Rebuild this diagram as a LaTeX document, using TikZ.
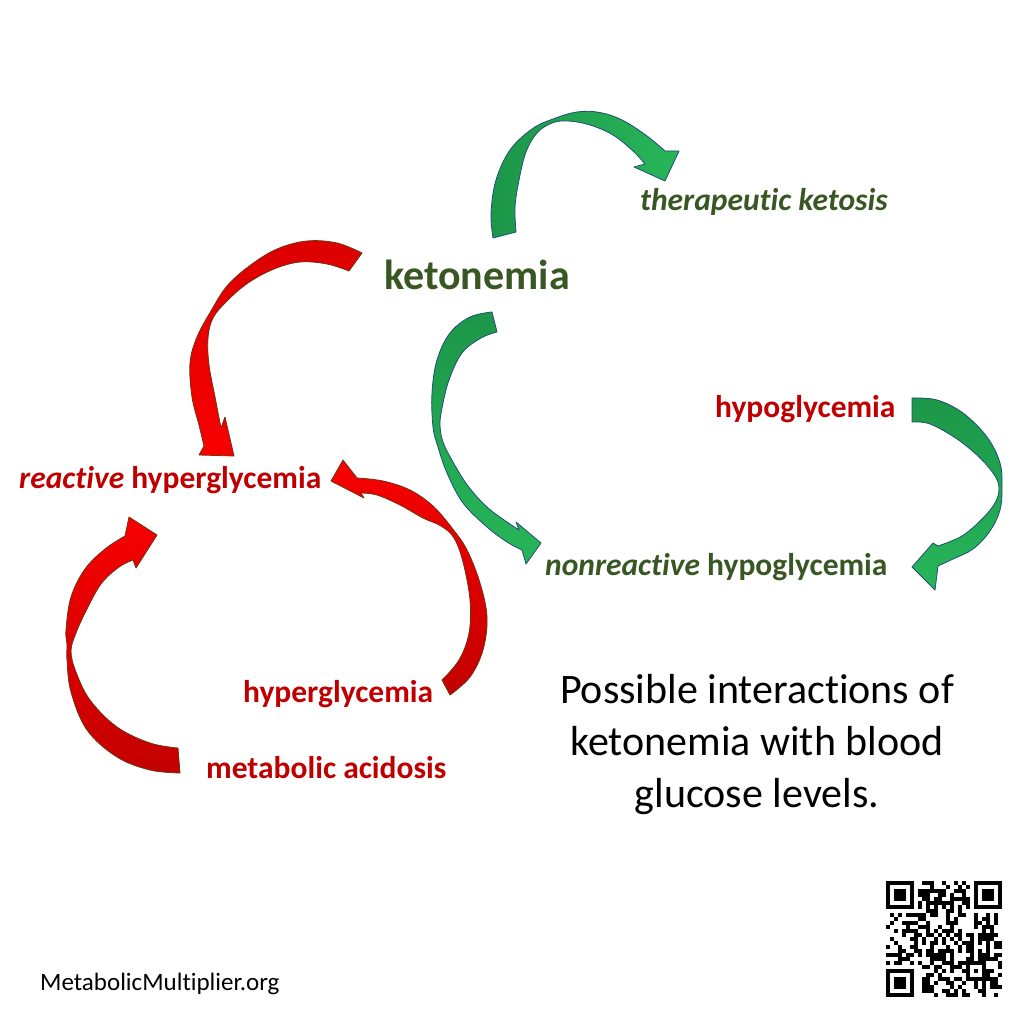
\documentclass[tikz,border=0pt]{standalone}
\usepackage{fontspec}
\setmainfont{Carlito}[Ligatures={NoCommon}]
\definecolor{dgreen}{RGB}{56,87,35}
\definecolor{dred}{RGB}{192,0,0}
\definecolor{gdark}{RGB}{28,150,72}
\definecolor{glight}{RGB}{40,182,90}
\definecolor{rdark}{RGB}{195,0,0}
\definecolor{rmid}{RGB}{220,0,0}
\definecolor{rlight}{RGB}{248,0,0}
\definecolor{gedge}{RGB}{31,78,121}
\definecolor{redge}{RGB}{110,50,20}
\tikzset{
  garrow/.style={draw=gedge, line width=0.8pt, line join=round},
  rarrow/.style={draw=redge, line width=0.8pt, line join=round},
  lbl/.style={inner sep=0pt, anchor=base west, font=\bfseries\fontsize{31.5}{37}\selectfont},
  caption/.style={inner sep=0pt, anchor=base, font=\fontsize{42}{52}\selectfont, text=black},
  qrmod/.style={fill=black},
}
\begin{document}
\begin{tikzpicture}[x=1pt,y=-1pt]
\fill[white] (0,0) rectangle (1024,1024);
\useasboundingbox (0,0) rectangle (1024,1024);

% ---------- labels ----------
\node[lbl, text=dgreen] (ther) at (640,211) {\itshape therapeutic ketosis};
\node[lbl, text=dgreen, font=\bfseries\fontsize{42}{50}\selectfont] (keto) at (384,289.5) {ketonemia};
\node[lbl, text=dred] (hypo) at (715,417) {hypoglycemia};
\node[lbl, text=dred] (rhyper) at (19,488) {{\itshape reactive} hyperglycemia};
\node[lbl, text=dgreen] (nrhypo) at (545,575) {{\itshape nonreactive} hypoglycemia};
\node[lbl, text=dred] (hyper) at (243,702) {hyperglycemia};
\node[lbl, text=dred] (acid) at (206,778) {metabolic acidosis};
\node[caption] (cap1) at (757,703) {Possible interactions of};
\node[caption] (cap2) at (757,755) {ketonemia with blood};
\node[caption] (cap3) at (757,807) {glucose levels.};
\node[inner sep=0pt, anchor=base west, font=\fontsize{25}{30}\selectfont] (site) at (40,990) {MetabolicMultiplier.org};

% ---------- arrows ----------
% ketonemia -> therapeutic ketosis
\shadedraw[garrow, left color=gdark, right color=glight]
  plot[smooth, tension=0.6] coordinates {(493,238) (491,213) (496,180) (510,150) (532,129) (553,119) (577,112) (600,112.5) (623,120.5) (647,136) (665,151)}
  -- (679,151) -- (665,181) -- (634,167)
  -- plot[smooth, tension=0.6] coordinates {(645,164) (633,151) (613,135) (590,125) (568,121) (552,123) (537,133) (526,152) (519,180) (515,207) (516,232)}
  -- cycle;
% ketonemia -> reactive hyperglycemia
\shadedraw[rarrow, top color=rmid, bottom color=rlight]
  plot[smooth, tension=0.6] coordinates {(362,253) (337,243) (307,241) (277,249) (250,265.5) (227,286) (211,311) (197,337) (190,363) (192,397) (199,425) (204,446)}
  -- (199,455) -- (234,456) -- (225,417)
  -- plot[smooth, tension=0.6] coordinates {(221,428) (215,397) (209,365) (208,338) (213,318) (227,301) (248,283) (274,269) (300,262) (327,264) (349,271)}
  -- cycle;
% ketonemia -> nonreactive hypoglycemia
\shadedraw[garrow, top color=gdark, bottom color=glight]
  plot[smooth, tension=0.6] coordinates {(492,312) (470,317) (450,333) (437,360) (432,393) (433,427) (438,447) (447,473) (463,503) (487,527) (507,542) (522,550)}
  -- (526,564) -- (541,543) -- (516,522)
  -- plot[smooth, tension=0.6] coordinates {(519,530) (507,522) (487,507) (468,486) (453,462) (443,442) (440,425) (442,408) (449,380) (462,353) (481,338) (497,332)}
  -- cycle;
% hypoglycemia -> nonreactive hypoglycemia
\shadedraw[garrow, top color=gdark, bottom color=glight]
  plot[smooth, tension=0.6] coordinates {(912,398) (937,400) (963,413) (987,437) (1000,463) (1002,488) (1000,510) (990,531) (973,549) (953,559) (938,566)}
  -- (935,590) -- (912,567) -- (933,543)
  -- plot[smooth, tension=0.6] coordinates {(938,546) (962,536) (982,519) (995,503) (999,489) (995,476) (980,458) (957,439) (930,424) (912,422)}
  -- cycle;
% hyperglycemia -> reactive hyperglycemia
\shadedraw[rarrow, bottom color=rdark, top color=rlight]
  plot[smooth, tension=0.6] coordinates {(450,695) (470,677) (483,650) (487,617) (480,583) (467,550) (452,528) (433,506) (410,490) (383,481) (357,478)}
  -- (343,460) -- (331,481) -- (364,498)
  -- plot[smooth, tension=0.6] coordinates {(361,493) (377,495) (400,505) (423,518) (441,526) (454,538) (463,562) (470,600) (469,633) (459,660) (442,680)}
  -- cycle;
% metabolic acidosis -> reactive hyperglycemia
\shadedraw[rarrow, bottom color=rdark, top color=rlight]
  plot[smooth, tension=0.6] coordinates {(180,773) (150,770) (117,757) (87,730) (71,692) (67,660) (67,645) (66,630) (71,597) (85,569) (105,549) (125,536)}
  -- (129,517) -- (157,535) -- (136,568)
  -- plot[smooth, tension=0.6] coordinates {(133,560) (119,567) (101,584) (86,611) (76,633) (71,651) (76,672) (90,700) (117,727) (150,743) (178,748)}
  -- cycle;

% ---------- QR code ----------
\pgfmathsetseed{4242}
\foreach \c in {0,...,28}{
  \foreach \r in {0,...,28}{
    \pgfmathtruncatemacro{\res}{((\c<8)&&(\r<8)) || ((\c>20)&&(\r<8)) || ((\c<8)&&(\r>20)) || ((\c>19)&&(\c<25)&&(\r>19)&&(\r<25)) || (\c==6) || (\r==6)}
    \ifnum\res=0
      \pgfmathrandominteger{\bit}{0}{1}
      \ifnum\bit=1
        \fill[qrmod] (886+4*\c,881+4*\r) rectangle ++(4.05,4.05);
      \fi
    \fi
  }
}
\foreach \ox/\oy in {886/881, 974/881, 886/969}{
  \fill[qrmod] (\ox,\oy) rectangle ++(28,28);
  \fill[white] (\ox+4,\oy+4) rectangle ++(20,20);
  \fill[qrmod] (\ox+8,\oy+8) rectangle ++(12,12);
}
\foreach \k in {8,10,...,20}{
  \fill[qrmod] (886+4*\k,881+24) rectangle ++(4,4);
  \fill[qrmod] (886+24,881+4*\k) rectangle ++(4,4);
}
\fill[qrmod] (966,961) rectangle ++(20,20);
\fill[white] (970,965) rectangle ++(12,12);
\fill[qrmod] (974,969) rectangle ++(4,4);
\end{tikzpicture}
\end{document}
